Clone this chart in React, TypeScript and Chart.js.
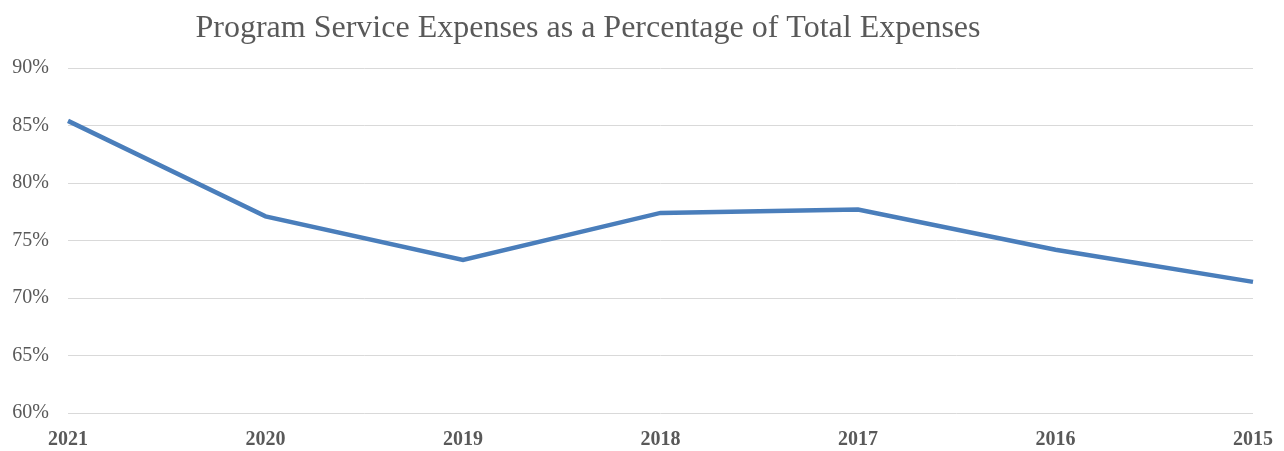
import React, { useEffect, useRef } from "react";
import { Chart, registerables } from "chart.js";

Chart.register(...registerables);

const TITLE = "Program Service Expenses as a Percentage of Total Expenses";
const years = ["2021", "2020", "2019", "2018", "2017", "2016", "2015"];
const programPct = [85.4, 77.1, 73.3, 77.4, 77.7, 74.2, 71.4];
const yMin = 60;
const yMax = 90;
const yStep = 5;

const titlePlugin = {
  id: "customTitle",
  afterDraw(chart: any) {
    const ctx = chart.ctx;
    ctx.save();
    ctx.font = "32px 'Liberation Serif', 'Times New Roman', serif";
    ctx.fillStyle = "#595959";
    ctx.textAlign = "center";
    ctx.textBaseline = "alphabetic";
    ctx.fillText(TITLE, 588, 37);
    ctx.restore();
  },
};

export default function App() {
  const ref = useRef<HTMLCanvasElement | null>(null);
  useEffect(() => {
    document.body.style.margin = "0";
    const chart = new Chart(ref.current as HTMLCanvasElement, {
      type: "line",
      data: {
        labels: years,
        datasets: [
          {
            data: programPct,
            borderColor: "#4A7EBB",
            borderWidth: 4.5,
            pointRadius: 0,
            tension: 0,
            fill: false,
          },
        ],
      },
      options: {
        animation: false,
        responsive: false,
        layout: { padding: { top: 68, right: 31, bottom: 0, left: 0 } },
        plugins: { legend: { display: false }, tooltip: { enabled: false }, title: { display: false } },
        scales: {
          x: {
            offset: false,
            grid: { display: false },
            border: { display: false },
            ticks: {
              color: "#595959",
              padding: 7,
              maxRotation: 0,
              font: { family: "'Liberation Serif', 'Times New Roman', serif", size: 20, weight: "bold" },
            },
            afterFit(scale: any) {
              scale.height = 38;
            },
          },
          y: {
            min: yMin,
            max: yMax,
            grid: { color: "#D9D9D9", lineWidth: 1, drawTicks: false },
            border: { display: false },
            ticks: {
              stepSize: yStep,
              color: "#595959",
              padding: 19,
              font: { family: "'Liberation Serif', 'Times New Roman', serif", size: 20 },
              callback: (v: any) => v + "%",
            },
            afterFit(scale: any) {
              scale.width = 68;
            },
          },
        },
      },
      plugins: [titlePlugin],
    });
    return () => chart.destroy();
  }, []);
  return (
    <div style={{ position: "absolute", left: 0, top: 0, width: 1284, height: 451 }}>
      <canvas ref={ref} width={1284} height={451} />
    </div>
  );
}
